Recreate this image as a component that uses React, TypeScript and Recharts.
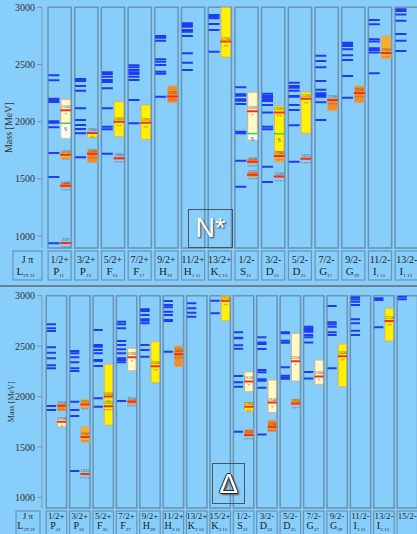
import React from 'react';
import { ComposedChart, XAxis, YAxis, Scatter, ReferenceArea } from 'recharts';

// ---- N* panel ----
const nJP = ['1/2+', '3/2+', '5/2+', '7/2+', '9/2+', '11/2+', '13/2+', '1/2-', '3/2-', '5/2-', '7/2-', '9/2-', '11/2-', '13/2-'];
const nWave = [['P', '11'], ['P', '13'], ['F', '15'], ['F', '17'], ['H', '19'], ['H', '1 11'], ['K', '1 13'], ['S', '11'], ['D', '13'], ['D', '15'], ['G', '17'], ['G', '19'], ['I', '1 11'], ['I', '1 13']];
// model states per column (MeV)
const nModel = [
  [2405, 2362, 2201, 2187, 2172, 2003, 1991, 1950, 1726, 1516, 936],
  [2373, 2356, 2312, 2271, 2117, 2014, 1971, 1936, 1898, 1688],
  [2432, 2417, 2393, 2364, 2347, 2292, 2117, 1956, 1933, 1720],
  [2493, 2475, 2452, 2432, 2417, 2393, 2364, 2189, 1986],
  [2749, 2734, 2708, 2545, 2524, 2495, 2437, 2419, 2218],
  [2860, 2845, 2830, 2801, 2787, 2749, 2598, 2516, 2452],
  [2933, 2918, 2904, 2854, 2801, 2612],
  [2301, 2239, 2227, 2195, 2183, 2154, 1912, 1898, 1658, 1431],
  [2245, 2224, 2209, 2195, 2180, 2146, 2079, 1956, 1933, 1606, 1472],
  [2341, 2312, 2297, 2271, 2224, 2218, 2146, 2102, 1968, 1649],
  [2577, 2531, 2475, 2356, 2280, 2248, 2233, 2218, 2169, 2014],
  [2691, 2676, 2662, 2633, 2580, 2539, 2399, 2209],
  [2889, 2851, 2720, 2700, 2642, 2627, 2604, 2423],
  [2982, 2968, 2936, 2883, 2767, 2708, 2618],
];
// [column, mass, low, high, stars]
const nExp = [
  [0, 939, 939, 939, 4], [0, 1440, 1426, 1466, 4], [0, 1710, 1671, 1737, 3], [0, 2100, 1984, 2195, 1],
  [1, 1720, 1642, 1752, 4], [1, 1900, 1860, 1905, 2],
  [2, 1680, 1672, 1688, 4], [2, 2000, 1869, 2175, 2],
  [3, 1990, 1846, 2146, 2],
  [4, 2220, 2166, 2312, 4],
  [6, 2700, 2563, 3000, 2],
  [7, 1535, 1519, 1557, 4], [7, 1650, 1636, 1676, 4], [7, 2090, 1892, 2257, 1],
  [8, 1520, 1512, 1525, 4], [8, 1700, 1648, 1740, 3], [8, 2080, 1740, 2137, 2],
  [9, 1675, 1668, 1682, 4], [9, 2200, 1898, 2259, 2],
  [10, 2190, 2096, 2201, 4],
  [11, 2250, 2166, 2312, 4],
  [12, 2600, 2548, 2749, 3],
];
const nWhite = [[0, 1855, 1984], [7, 1840, 1892]];
const nGreen = [[0, 1986], [7, 1897], [8, 1895]];

// ---- Delta panel ----
const dJP = ['1/2+', '3/2+', '5/2+', '7/2+', '9/2+', '11/2+', '13/2+', '15/2+', '1/2-', '3/2-', '5/2-', '7/2-', '9/2-', '11/2-', '13/2-', '15/2-'];
const dWave = [['P', '31'], ['P', '33'], ['F', '35'], ['F', '37'], ['H', '39'], ['H', '3 11'], ['K', '3 13'], ['K', '3 15'], ['S', '31'], ['D', '33'], ['D', '35'], ['G', '37'], ['G', '39'], ['I', '3 11'], ['I', '3 13'], ['', '']];
const dModel = [
  [2716, 2677, 2650, 2488, 2435, 2379, 2310, 2280, 1906, 1866],
  [2451, 2429, 2389, 2339, 2280, 2253, 1948, 1866, 1807, 1261],
  [2660, 2511, 2494, 2461, 2429, 2362, 2352, 2303, 1982, 1899],
  [2742, 2716, 2677, 2551, 2511, 2468, 2429, 2379, 2362, 2339, 1955],
  [2865, 2858, 2848, 2809, 2766, 2752, 2726, 2511, 2461, 2395],
  [2947, 2908, 2885, 2841, 2809, 2759, 2749, 2444],
  [2924, 2875, 2831, 2792],
  [2950, 2825],
  [2637, 2583, 2577, 2508, 2474, 2203, 2141, 2097, 1651],
  [2587, 2537, 2521, 2471, 2263, 2240, 2171, 2157, 2087, 1625],
  [2637, 2627, 2554, 2534, 2290, 2206, 2190, 2177],
  [2692, 2677, 2660, 2643, 2610, 2587, 2537, 2243, 2180],
  [2898, 2736, 2716, 2692, 2637, 2610, 2280],
  [2984, 2964, 2941, 2908, 2766, 2726, 2653, 2610],
  [2974, 2957, 2686],
  [2990, 2964],
];
const dExp = [
  [0, 1750, 1700, 1780, 1], [0, 1910, 1859, 1926, 4],
  [1, 1232, 1225, 1240, 4], [1, 1600, 1545, 1700, 3], [1, 1920, 1889, 1972, 3],
  [2, 1905, 1866, 1933, 4], [2, 2000, 1717, 2322, 2],
  [3, 1950, 1925, 1965, 4], [3, 2390, 2256, 2478, 1],
  [4, 2300, 2137, 2544, 2],
  [5, 2420, 2297, 2501, 4],
  [7, 2950, 2752, 3000, 2],
  [8, 1620, 1608, 1674, 4], [8, 1900, 1849, 1942, 2], [8, 2150, 2048, 2246, 1],
  [9, 1700, 1651, 1767, 4], [9, 1940, 1840, 2164, 1],
  [10, 1930, 1916, 1972, 3], [10, 2350, 2154, 2627, 1],
  [11, 2200, 2121, 2362, 1],
  [12, 2400, 2097, 2521, 2],
  [14, 2750, 2551, 2875, 2],
];

const yTicks = [1000, 1500, 2000, 2500, 3000];
const starFill = ['#ffffff', '#fff8c8', '#fff200', '#f7ae2e', '#f28a26'];
const SERIF = 'Liberation Serif, Times New Roman, serif';
const LINE = '#6a93b4';

const WaveTick = ({ x, y, index, jp, wave, bw, big }) => {
  const w = wave[index] || ['', ''];
  return (
    <g fontFamily={SERIF} fill="#222">
      <rect x={x - bw / 2} y={y + 3} width={bw} height={29} fill="none" stroke={LINE} strokeWidth={1.2} />
      <text x={x} y={y + (big ? 15 : 11)} fontSize={big ? 10 : 9} textAnchor="middle">{jp[index]}</text>
      <text x={x - 1} y={y + (big ? 27 : 21)} fontSize={big ? 11 : 10} textAnchor="middle">
        {w[0]}
        <tspan fontSize={5} dy={1.5}>{w[1]}</tspan>
      </text>
    </g>
  );
};

const MassLabel = ({ viewBox, cxOff, size }) => {
  const x = viewBox.x + cxOff;
  const y = viewBox.y + viewBox.height / 2;
  return (
    <text x={x} y={y} transform={`rotate(-90 ${x} ${y})`} textAnchor="middle" dominantBaseline="middle"
      fontFamily={SERIF} fontSize={size} fill="#333">Mass [MeV]</text>
  );
};

function Panel({ jp, wave, model, exp, white, green, d0, d1, height, marginTop, hw, bw, big, cxOff, labelSize }) {
  const modelPts = model.flatMap((ms, c) => ms.map((m) => ({ x: c + 0.27, y: m })));
  const redPts = exp.map(([c, m, , , s]) => ({ x: c + 0.71, y: m, m, s }));
  const greenPts = green.map(([c, m]) => ({ x: c + 0.71, y: m }));
  const ticks = jp.map((_, i) => i + 0.485);
  return (
    <ComposedChart width={417} height={height} margin={{ top: marginTop, right: 0, bottom: 0, left: 0 }}>
      <XAxis type="number" dataKey="x" domain={[d0, d1]} allowDataOverflow ticks={ticks} interval={0}
        axisLine={false} tickLine={false} tickSize={0} tickMargin={0} height={40}
        tick={(p) => <WaveTick {...p} jp={jp} wave={wave} bw={bw} big={big} />} />
      <YAxis type="number" dataKey="y" domain={[895, 3000]} allowDataOverflow ticks={yTicks} width={42}
        axisLine={{ stroke: '#7d93a6' }} tickLine={{ stroke: '#7d93a6' }} tickSize={5}
        tick={{ fontSize: 10, fill: '#333', fontFamily: SERIF }}
        label={(p) => <MassLabel {...p} cxOff={cxOff} size={labelSize} />} />
      {jp.map((_, i) => (
        <ReferenceArea key={'c' + i} x1={i + 0.05} x2={i + 0.92} y1={895} y2={3000} fill="none"
          stroke={LINE} strokeWidth={1.5} ifOverflow="visible" />
      ))}
      {exp.filter((e) => e[3] > e[2]).map(([c, m, lo, hi, s], i) => (
        <ReferenceArea key={'e' + i} x1={c + 0.53} x2={c + 0.89} y1={lo} y2={hi} fill={starFill[s]}
          fillOpacity={1} stroke="#cfa77a" strokeWidth={0.8} ifOverflow="visible" />
      ))}
      {white.map(([c, lo, hi], i) => (
        <ReferenceArea key={'w' + i} x1={c + 0.53} x2={c + 0.89} y1={lo} y2={hi} fill="#fdfdf4"
          fillOpacity={1} stroke="#cfc7a0" strokeWidth={0.8} ifOverflow="visible" />
      ))}
      <Scatter data={modelPts} isAnimationActive={false}
        shape={({ cx, cy }) => <line x1={cx - hw} x2={cx + hw} y1={cy} y2={cy} stroke="#1e3cf5" strokeWidth={2} />} />
      <Scatter data={greenPts} isAnimationActive={false}
        shape={({ cx, cy }) => (
          <g>
            <line x1={cx - hw} x2={cx + hw} y1={cy} y2={cy} stroke="#3fd24a" strokeWidth={1.5} />
            <text x={cx} y={cy + 8} fontSize={6} textAnchor="middle" fill="#444" fontFamily={SERIF}>S</text>
          </g>
        )} />
      <Scatter data={redPts} isAnimationActive={false}
        shape={({ cx, cy, payload }) => (
          <g fontFamily={SERIF}>
            <line x1={cx - hw} x2={cx + hw} y1={cy} y2={cy} stroke="#ff2a1a" strokeWidth={2} />
            <text x={cx} y={cy - 2} fontSize={4.5} textAnchor="middle" fill="#5b4b2b">{payload.m}</text>
            <text x={cx} y={cy + 6} fontSize={5} textAnchor="middle" fill="#6a6a6a">{'*'.repeat(payload.s)}</text>
          </g>
        )} />
    </ComposedChart>
  );
}

const JBox = ({ left, top, w, big }) => (
  <svg style={{ position: 'absolute', left, top }} width={w + 2} height={32}>
    <rect x={1} y={1} width={w} height={29} fill="none" stroke={LINE} strokeWidth={1.2} />
    <g fontFamily={SERIF} fill="#222" textAnchor="middle">
      <text x={w / 2 + 1} y={big ? 13 : 9} fontSize={big ? 10 : 9}>J π</text>
      <text x={w / 2 - 1} y={big ? 25 : 19} fontSize={big ? 11 : 10}>
        L<tspan fontSize={5} dy={1.5}>2T 2J</tspan>
      </text>
    </g>
  </svg>
);

export default function App() {
  return (
    <div style={{ position: 'absolute', left: 0, top: 0, width: 417, height: 534, overflow: 'hidden', background: '#87cefa' }}>
      <div style={{ position: 'absolute', left: 0, top: 0 }}>
        <Panel jp={nJP} wave={nWave} model={nModel} exp={nExp} white={nWhite} green={nGreen}
          d0={-0.175} d1={13.87} height={288} marginTop={7.3} hw={5.5} bw={23} big cxOff={10} labelSize={10} />
      </div>
      <JBox left={12} top={250} w={29} big />
      <div style={{ position: 'absolute', left: 0, top: 285, width: 417, height: 2, background: '#6f8091' }} />
      <div style={{ position: 'absolute', left: 0, top: 288 }}>
        <Panel jp={dJP} wave={dWave} model={dModel} exp={dExp} white={[]} green={[]}
          d0={-0.131} d1={15.9} height={260} marginTop={7.7} hw={4.6} bw={20.5} big={false} cxOff={12} labelSize={8} />
      </div>
      <JBox left={15} top={510} w={24} big={false} />
      <div style={{ position: 'absolute', left: 188, top: 209, width: 45, height: 39, border: '1.5px solid #4a5560', boxSizing: 'border-box',
        display: 'flex', alignItems: 'center', justifyContent: 'center', fontFamily: 'Liberation Sans, Arial, sans-serif', fontSize: 27,
        color: '#fff', textShadow: '1px 1px 2px #333' }}>N*</div>
      <div style={{ position: 'absolute', left: 212, top: 463, width: 33, height: 41, border: '1.5px solid #4a5560', boxSizing: 'border-box',
        display: 'flex', alignItems: 'center', justifyContent: 'center', fontFamily: 'Liberation Sans, Arial, sans-serif', fontSize: 28,
        color: '#fff', textShadow: '-1px 0 #222, 1px 0 #222, 0 1px #222, 0 -1px #222, 2px 2px 2px #555' }}>Δ</div>
    </div>
  );
}
